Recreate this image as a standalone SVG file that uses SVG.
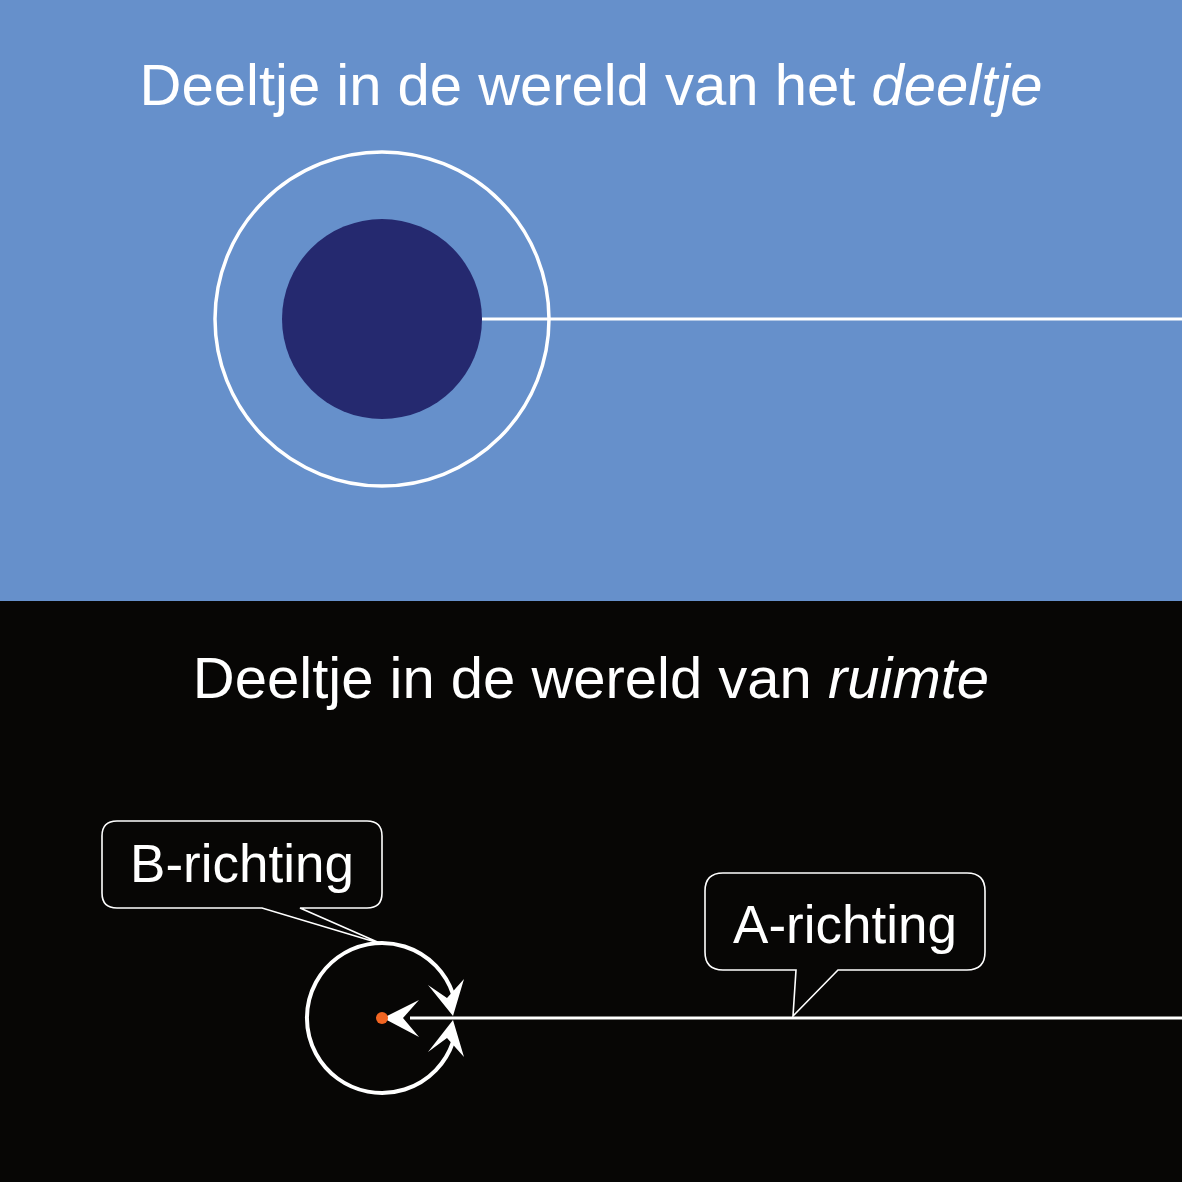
<svg xmlns="http://www.w3.org/2000/svg" width="1182" height="1182" viewBox="0 0 1182 1182">
<defs>
<style>
.title{font-family:"Liberation Sans",Arial,sans-serif;font-size:58px;fill:#fff}
.lab{font-family:"Liberation Sans",Arial,sans-serif;font-size:53px;fill:#fff}
.call{fill:#070605;stroke:#fff;stroke-width:1.6}
.ln{stroke:#fff;stroke-width:3;fill:none}
</style>
</defs>
<rect x="0" y="0" width="1182" height="601" fill="#6690CB"/>
<rect x="0" y="601" width="1182" height="581" fill="#070605"/>
<text class="title" x="591" y="105" text-anchor="middle">Deeltje in de wereld van het <tspan font-style="italic">deeltje</tspan></text>
<text class="title" x="591" y="698" text-anchor="middle">Deeltje in de wereld van <tspan font-style="italic">ruimte</tspan></text>
<g id="particle-top">
<circle cx="382" cy="319" r="167" fill="none" stroke="#fff" stroke-width="3.5"/>
<circle cx="382" cy="319" r="100" fill="#25296F"/>
</g>
<g id="connectors">
<line class="ln" x1="482" y1="319" x2="1182" y2="319"/>
<line class="ln" x1="410" y1="1018" x2="1182" y2="1018"/>
<path d="M383,1018 L419,1000 L403,1018 L419,1037 Z" fill="#fff"/>
<path d="M453,1016 L428,985 L447,998 L464,979 Z" fill="#fff"/>
<path d="M453,1020 L428,1052 L447,1038 L464,1057 Z" fill="#fff"/>
</g>
<g id="particle-bottom">
<path d="M453,994 A75,75 0 1 0 453,1042" fill="none" stroke="#fff" stroke-width="4"/>
<circle cx="382" cy="1018" r="6" fill="#F26522"/>
</g>
<g id="callout-b">
<path class="call" d="M117,821 H367 Q382,821 382,836 V893 Q382,908 367,908 H300 L382,944 L262,908 H117 Q102,908 102,893 V836 Q102,821 117,821 Z"/>
<text class="lab" x="242" y="882" text-anchor="middle">B-richting</text>
</g>
<g id="callout-a">
<path class="call" d="M723,873 H967 Q985,873 985,891 V952 Q985,970 967,970 H838 L793,1016 L796,970 H723 Q705,970 705,952 V891 Q705,873 723,873 Z"/>
<text class="lab" x="845" y="943" text-anchor="middle">A-richting</text>
</g>
</svg>
